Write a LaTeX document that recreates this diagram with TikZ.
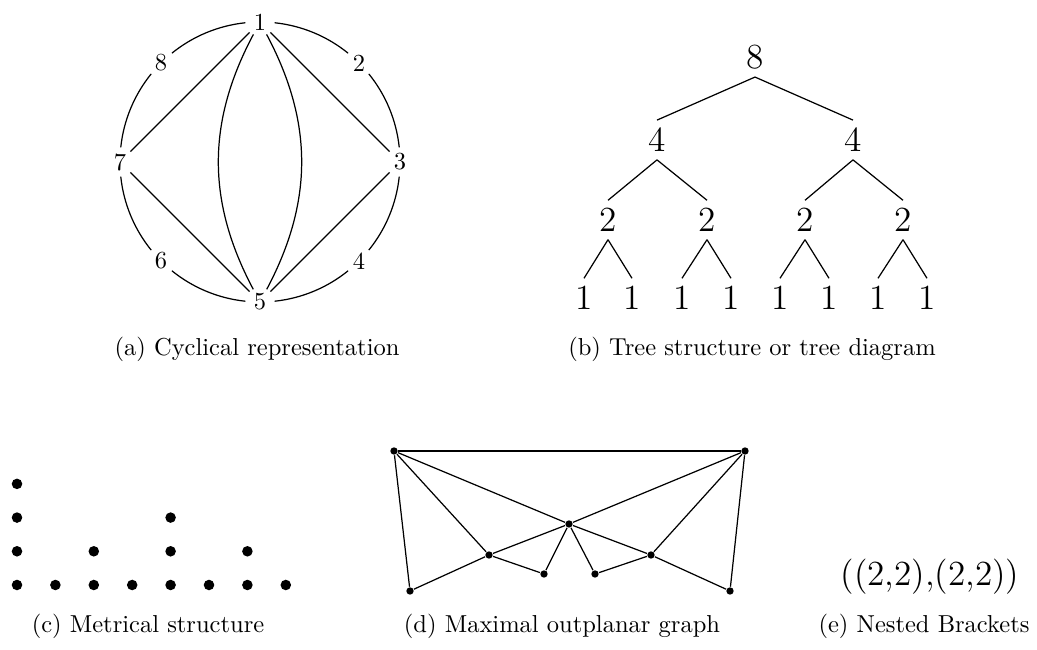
\documentclass[tikz,border=0pt]{standalone}
\usepackage{amsmath,amssymb}
\usepackage{tikz}

\tikzset{
  numlabel/.style={inner sep=1.5pt},
  treenum/.style={font=\Large, inner sep=3pt},
  metdot/.style={circle, fill=black, inner sep=0pt, minimum size=4.3pt},
  gdot/.style={circle, fill=black, inner sep=0pt, minimum size=3pt},
  subcap/.style={font=\normalsize, inner sep=0pt}
}

\begin{document}
\begin{tikzpicture}[x=0.408pt, y=0.408pt, line width=0.5pt]
        \useasboundingbox (0,0) rectangle (1037,650);

        % (a) cycle of eight
        \coordinate (cc) at (260,488);
        \foreach \k in {1,...,8}
          \node[numlabel] (n\k) at ([shift={({90-45*(\k-1)}:140)}]cc) {\k};
        \foreach \a in {0,45,...,315}
          \draw ([shift={(\a+6:140)}]cc) arc[start angle=\a+6, end angle=\a+39, radius=140];
        \draw (n1) -- (n3) -- (n5) -- (n7) -- (n1);
        \draw (n1) to[bend left=28] (n5);
        \draw (n1) to[bend right=28] (n5);
        \node[subcap] (capa) at (257,301) {(a) Cyclical representation};

        % (b) tree
        \node[treenum] (t8) at (755,593) {8};
        \node[treenum] (t4a) at (657,510) {4};
        \node[treenum] (t4b) at (853,510) {4};
        \foreach \n/\x in {a/608, b/707, c/805, d/903}
          \node[treenum] (t2\n) at (\x,430) {2};
        \foreach \n/\x in {a/584, b/632, c/682, d/731, e/780, f/829, g/878, h/927}
          \node[treenum] (t1\n) at (\x,352) {1};
        \foreach \p/\c in {t8/t4a, t8/t4b, t4a/t2a, t4a/t2b, t4b/t2c, t4b/t2d,
                           t2a/t1a, t2a/t1b, t2b/t1c, t2b/t1d, t2c/t1e, t2c/t1f, t2d/t1g, t2d/t1h}
          \draw (\p.south) -- (\c.north);
        \node[subcap] (capb) at (752,301) {(b) Tree structure or tree diagram};

        % (c) metrical grid
        \foreach \i/\h in {0/4, 1/1, 2/2, 3/1, 4/3, 5/1, 6/2, 7/1}
          \foreach \j in {1,...,\h}
            \node[metdot] (m\i\j) at ({17+38.4*\i},{65+33.7*(\j-1)}) {};
        \node[subcap] (capc) at (148,24) {(c) Metrical structure};

        % (d) outerplanar graph
        \node[gdot] (gtl) at (394,199) {};
        \node[gdot] (gtr) at (745,199) {};
        \node[gdot] (gc) at (569,126) {};
        \node[gdot] (gl) at (489,95) {};
        \node[gdot] (gr) at (651,95) {};
        \node[gdot] (gli) at (544,76) {};
        \node[gdot] (gri) at (595,76) {};
        \node[gdot] (gbl) at (410,59) {};
        \node[gdot] (gbr) at (730,59) {};
        \foreach \u/\v in {gtl/gtr, gtl/gbl, gtl/gl, gtl/gc, gtr/gc, gtr/gr, gtr/gbr,
                           gc/gl, gc/gli, gc/gri, gc/gr, gl/gli, gl/gbl, gr/gri, gr/gbr}
          \draw (\u) -- (\v);
        \node[subcap] (capd) at (562,24) {(d) Maximal outplanar graph};

        % (e) brackets
        \node[font=\Large] (nest) at (930,73) {((2,2),(2,2))};
        \node[subcap] (cape) at (924,24) {(e) Nested Brackets};
      \end{tikzpicture}
\end{document}
